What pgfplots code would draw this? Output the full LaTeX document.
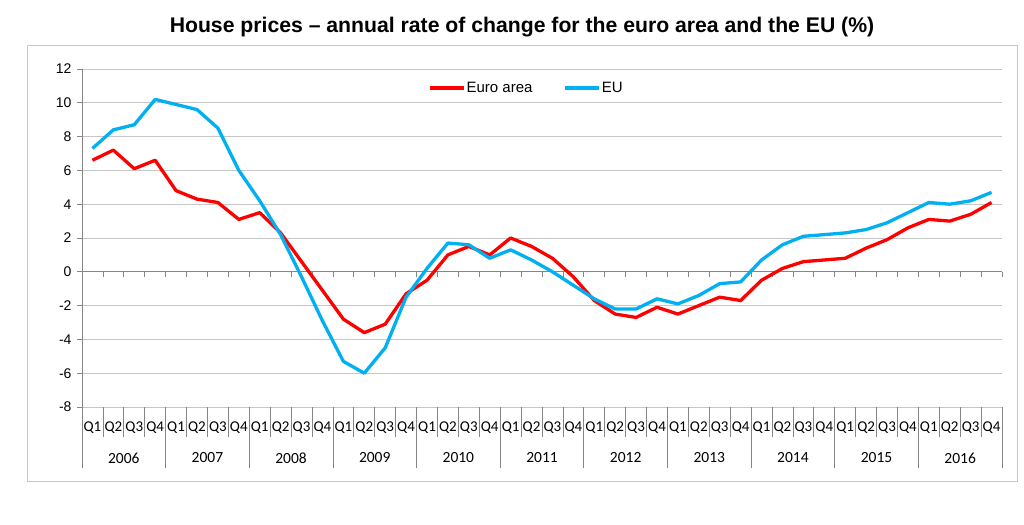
\documentclass[border=0pt]{standalone}
\usepackage{pgfplots}
\usepackage{pgfplotstable}
\pgfplotsset{compat=1.18}
\usepackage{fontspec}
\setmainfont{Liberation Sans}
\newfontfamily\cat{Carlito}

\definecolor{eared}{HTML}{FF0000}
\definecolor{eublue}{HTML}{00B0F0}
\definecolor{axgray}{HTML}{868686}
\definecolor{grgray}{HTML}{C6C6C6}

% annual rate of change, 2006Q1 .. 2016Q4
\pgfplotstableread{
ea eu
6.6 7.3
7.2 8.4
6.1 8.7
6.6 10.2
4.8 9.9
4.3 9.6
4.1 8.5
3.1 6.0
3.5 4.2
2.3 2.2
0.6 -0.3
-1.1 -2.9
-2.8 -5.3
-3.6 -6.0
-3.1 -4.5
-1.3 -1.5
-0.5 0.2
1.0 1.7
1.5 1.6
1.0 0.8
2.0 1.3
1.5 0.7
0.8 0.0
-0.3 -0.8
-1.7 -1.6
-2.5 -2.2
-2.7 -2.2
-2.1 -1.6
-2.5 -1.9
-2.0 -1.4
-1.5 -0.7
-1.7 -0.6
-0.5 0.7
0.2 1.6
0.6 2.1
0.7 2.2
0.8 2.3
1.4 2.5
1.9 2.9
2.6 3.5
3.1 4.1
3.0 4.0
3.4 4.2
4.1 4.7
}\prices

\begin{document}
\begin{tikzpicture}
\path[use as bounding box] (0,0) rectangle (1024bp,525bp);
\draw[grgray,line width=0.8bp] (27bp,44bp) rectangle (1017bp,480bp);
\node[font=\bfseries\fontsize{21.2bp}{24bp}\selectfont] at (522bp,498bp)
  {House prices – annual rate of change for the euro area and the EU (\%)};

\begin{axis}[at={(82bp,118bp)},anchor=south west,
  scale only axis,width=920bp,height=338bp,
  xmin=0,xmax=44,ymin=-8,ymax=12,
  ytick={-8,-6,...,12},
  axis x line=none,axis y line*=left,
  y axis line style={draw=none},
  ymajorgrids,grid style={grgray,line width=0.8bp},
  tick align=outside,major tick length=5bp,
  every tick/.style={axgray,line width=0.8bp},
  /pgf/number format/assume math mode=true,
  yticklabel style={font=\fontsize{14bp}{16bp}\selectfont,xshift=-2bp},
  clip=false,
  legend columns=2,
  legend style={draw=none,fill=none,at={(0.4826,0.944)},anchor=center,
    font=\fontsize{15bp}{18bp}\selectfont,
    nodes={inner sep=1bp},
    /tikz/every even column/.append style={column sep=30bp}},
  legend image code/.code={\draw[#1] (0bp,0bp) -- (34bp,0bp);},
  line join=round,
]
% axis lines and category separators
\draw[axgray,line width=0.8bp] (axis cs:0,12) -- ++(0bp,-399bp);
\draw[axgray,line width=0.8bp] (axis cs:0,0) -- (axis cs:44,0);
\pgfplotsinvokeforeach{1,...,44}{
  \draw[axgray,line width=0.8bp] (axis cs:#1,0) -- ++(0bp,-5bp);
}
\pgfplotsinvokeforeach{1,2,3,5,6,7,9,10,11,13,14,15,17,18,19,21,22,23,25,26,27,29,30,31,33,34,35,37,38,39,41,42,43}{
  \draw[axgray,line width=0.8bp] (axis cs:#1,-8) -- ++(0bp,-30bp);
}
\pgfplotsinvokeforeach{4,8,...,44}{
  \draw[axgray,line width=0.8bp] (axis cs:#1,-8) -- ++(0bp,-61bp);
}

\addplot[eared,line width=3.3bp] table[x expr=\coordindex+0.5,y=ea] {\prices};
\addlegendentry{Euro area}
\addplot[eublue,line width=3.3bp] table[x expr=\coordindex+0.5,y=eu] {\prices};
\addlegendentry{EU}

% quarter and year labels
\pgfplotsinvokeforeach{0,4,...,40}{
  \node[font=\cat\fontsize{15bp}{18bp}\selectfont,inner sep=0pt] at (axis cs:#1.5,-8) [yshift=-21bp] {Q1};
  \node[font=\cat\fontsize{15bp}{18bp}\selectfont,inner sep=0pt] at (axis cs:#1.5,-8) [xshift=20.909bp,yshift=-21bp] {Q2};
  \node[font=\cat\fontsize{15bp}{18bp}\selectfont,inner sep=0pt] at (axis cs:#1.5,-8) [xshift=41.818bp,yshift=-21bp] {Q3};
  \node[font=\cat\fontsize{15bp}{18bp}\selectfont,inner sep=0pt] at (axis cs:#1.5,-8) [xshift=62.727bp,yshift=-21bp] {Q4};
}
\node[font=\cat\fontsize{15.5bp}{18bp}\selectfont] at (axis cs:2,-8) [yshift=-51bp] {2006};
\node[font=\cat\fontsize{15.5bp}{18bp}\selectfont] at (axis cs:6,-8) [yshift=-51bp] {2007};
\node[font=\cat\fontsize{15.5bp}{18bp}\selectfont] at (axis cs:10,-8) [yshift=-51bp] {2008};
\node[font=\cat\fontsize{15.5bp}{18bp}\selectfont] at (axis cs:14,-8) [yshift=-51bp] {2009};
\node[font=\cat\fontsize{15.5bp}{18bp}\selectfont] at (axis cs:18,-8) [yshift=-51bp] {2010};
\node[font=\cat\fontsize{15.5bp}{18bp}\selectfont] at (axis cs:22,-8) [yshift=-51bp] {2011};
\node[font=\cat\fontsize{15.5bp}{18bp}\selectfont] at (axis cs:26,-8) [yshift=-51bp] {2012};
\node[font=\cat\fontsize{15.5bp}{18bp}\selectfont] at (axis cs:30,-8) [yshift=-51bp] {2013};
\node[font=\cat\fontsize{15.5bp}{18bp}\selectfont] at (axis cs:34,-8) [yshift=-51bp] {2014};
\node[font=\cat\fontsize{15.5bp}{18bp}\selectfont] at (axis cs:38,-8) [yshift=-51bp] {2015};
\node[font=\cat\fontsize{15.5bp}{18bp}\selectfont] at (axis cs:42,-8) [yshift=-51bp] {2016};
\end{axis}
\end{tikzpicture}
\end{document}
